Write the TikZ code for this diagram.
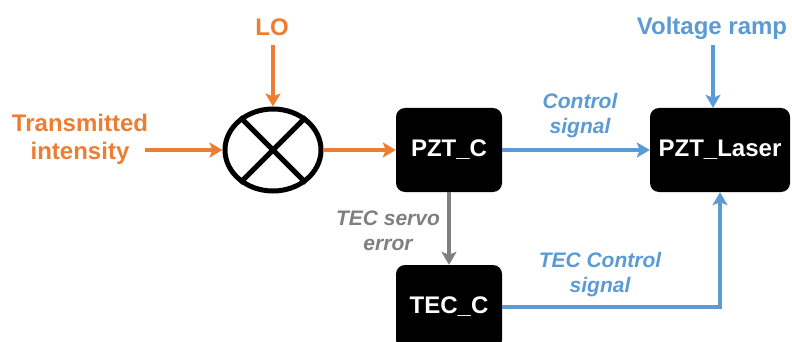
\documentclass[tikz,border=0pt]{standalone}
\usepackage{fontspec}
\setmainfont{Liberation Sans}
\usetikzlibrary{shapes.geometric,arrows.meta}
\definecolor{orng}{HTML}{ED7D31}
\definecolor{blu}{HTML}{5B9BD5}
\definecolor{gry}{HTML}{7F7F7F}
\tikzset{
  blk/.style={fill=black,text=white,rounded corners=9pt,minimum height=84pt,inner sep=0pt,font=\fontsize{24}{28}\selectfont\bfseries},
  lbl/.style={align=center,font=\fontsize{21}{25}\selectfont\bfseries\itshape},
  arr/.style={line width=4.5pt,-{Stealth[length=13pt,width=15pt,inset=3pt]}},
}
\begin{document}
\begin{tikzpicture}[x=1pt,y=-1pt]
\useasboundingbox (0,0) rectangle (792,342);
\node[draw,ellipse,line width=5pt,minimum width=96pt,minimum height=82pt,inner sep=0pt] (mix) at (273,150) {};
\draw[line width=5pt] (mix.45) -- (mix.225);
\draw[line width=5pt] (mix.135) -- (mix.315);
\node[blk,minimum width=106pt] (pzt) at (449,150) {PZT\_C};
\node[blk,minimum width=140pt] (laser) at (720,150) {PZT\_Laser};
\node[blk,minimum width=106pt] (tec) at (449,307) {TEC\_C};
\node[text=orng,font=\fontsize{24}{28}\selectfont\bfseries] (lo) at (272,27) {LO};
\node[text=orng,align=center,font=\fontsize{24}{28}\selectfont\bfseries] (ti) at (80,139) {Transmitted\\intensity};
\node[text=blu,font=\fontsize{24}{28}\selectfont\bfseries] (vr) at (712,28) {Voltage ramp};
\coordinate (lotop) at (273,45);
\coordinate (tiend) at (145,150);
\coordinate (vrtop) at (713,45);
\draw[arr,orng] (lotop) -- (mix.north);
\draw[arr,orng] (tiend) -- (mix.west);
\draw[arr,orng] (mix.east) -- (pzt.west);
\draw[arr,blu] (pzt.east) -- (laser.west);
\draw[arr,blu] (vrtop) -- (vrtop |- laser.north);
\draw[arr,gry] (pzt.south) -- (tec.north);
\draw[arr,blu] (tec.east) -| (laser.south);
\node[lbl,text=blu] (cs) at (580,116) {Control\\signal};
\node[lbl,text=gry] (se) at (388,231) {TEC servo\\error};
\node[lbl,text=blu] (tcs) at (600,275) {TEC Control\\signal};
\end{tikzpicture}
\end{document}
